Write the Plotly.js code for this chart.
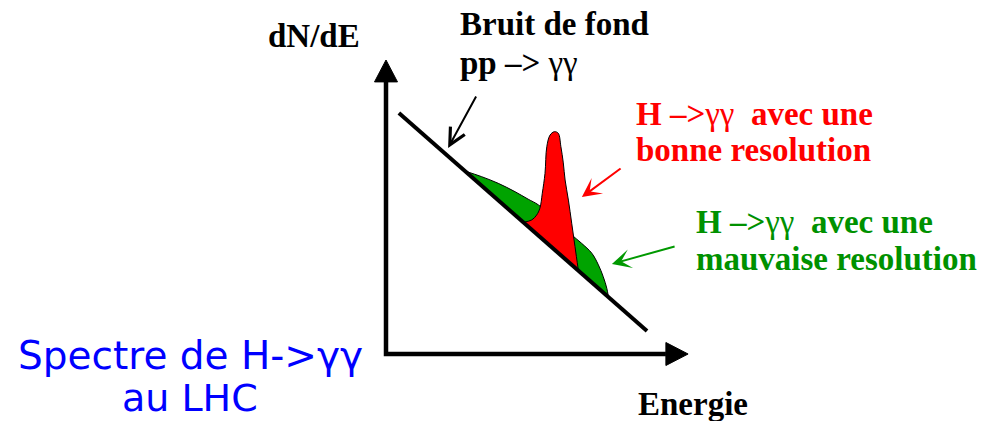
<!DOCTYPE html>
<html>
<head>
<meta charset="utf-8">
<script src="https://cdn.plot.ly/plotly-3.0.1.min.js"></script>
<style>
  html, body { margin: 0; padding: 0; background: #ffffff; }
  #chart { width: 1001px; height: 421px; }
</style>
</head>
<body>
<div id="chart"></div>
<script>
// Schematic diphoton spectrum: energy E (arbitrary units) vs dN/dE (arbitrary units)

// Falling pp -> γγ background
const bgE = [4.3, 87.0];
const bgN = [80.3, 7.7];

// Signal seen with poor resolution: broad bump on top of the background
const wideE = [26.3, 31.9, 37.4, 43.0, 47.4, 50.8, 56.3, 61.9, 65.2, 68.6, 70.8, 72.4, 73.6, 74.1];
const wideN = [61.0, 59.1, 56.9, 54.1, 51.6, 49.7, 45.0, 39.7, 36.9, 33.6, 29.7, 25.8, 21.9, 19.2];

// Signal seen with good resolution: narrow peak on top of the background
const narrowE = [45.8, 48.6, 50.2, 51.3, 52.1, 53.0, 53.6, 54.7, 56.1, 57.4, 58.3, 59.1, 59.7, 60.8, 61.9, 63.0, 64.1];
const narrowN = [43.9, 44.7, 46.3, 48.6, 53.6, 60.2, 69.1, 73.0, 74.1, 73.6, 69.1, 63.7, 58.0, 51.3, 43.6, 35.8, 28.0];

// Axis extent and arrow-head size (same units)
const yAxisTop = 90.7, yArrowTip = 98.0;
const xAxisEnd = 93.3, xArrowTip = 100.7;
const headHalf = 3.83;

const RED = '#ff0000';
const GREEN_FILL = '#00a300';
const GREEN_TEXT = '#009100';
const BLUE = '#0000ff';
const SERIF = '"Liberation Serif", "Times New Roman", serif';
const SANS = '"DejaVu Sans", sans-serif';

const traces = [
  {
    x: wideE, y: wideN, type: 'scatter', mode: 'lines',
    fill: 'toself', fillcolor: GREEN_FILL,
    line: { color: '#000000', width: 1, shape: 'spline', smoothing: 1 },
    hoverinfo: 'skip'
  },
  {
    x: narrowE, y: narrowN, type: 'scatter', mode: 'lines',
    fill: 'toself', fillcolor: RED,
    line: { color: '#000000', width: 1, shape: 'spline', smoothing: 1 },
    hoverinfo: 'skip'
  },
  {
    x: bgE, y: bgN, type: 'scatter', mode: 'lines',
    line: { color: '#000000', width: 4 },
    hoverinfo: 'skip'
  }
];

const shapes = [
  {
    type: 'path', xref: 'x', yref: 'y',
    path: `M 0,${yAxisTop} L 0,0 L ${xAxisEnd},0`,
    line: { color: '#000000', width: 4.5 }
  },
  {
    type: 'path', xref: 'x', yref: 'y',
    path: `M ${-headHalf},${yAxisTop} L 0,${yArrowTip} L ${headHalf},${yAxisTop} Z`,
    fillcolor: '#000000', line: { color: '#000000', width: 1 }
  },
  {
    type: 'path', xref: 'x', yref: 'y',
    path: `M ${xAxisEnd},${headHalf} L ${xArrowTip},0 L ${xAxisEnd},${-headHalf} Z`,
    fillcolor: '#000000', line: { color: '#000000', width: 1 }
  }
];

function label(text, x, y, color, size, family, xanchor) {
  return {
    text: text, x: x, y: y, xref: 'x', yref: 'y',
    xanchor: xanchor || 'left', yanchor: 'middle', showarrow: false,
    borderpad: 0,
    font: { family: family || SERIF, size: size || 33, color: color || '#000000' }
  };
}

function pointer(x, y, ax, ay, color, head, size) {
  return {
    text: '', x: x, y: y, ax: ax, ay: ay,
    xref: 'x', yref: 'y', axref: 'x', ayref: 'y',
    showarrow: true, arrowhead: head, arrowsize: size, arrowwidth: 2,
    arrowcolor: color, standoff: 0
  };
}

const NB = '\u00a0';
const annotations = [
  label('<b>dN/dE</b>', -39.7, 106),
  label('<b>Bruit de fond</b>', 24.3, 110),
  label('<b>pp –></b> γγ', 24.3, 97),
  label('<b>H –></b>γγ' + NB + NB + '<b>avec une</b>', 83, 80, RED),
  label('<b>bonne resolution</b>', 83, 68, RED),
  label('<b>H –></b>γγ' + NB + NB + '<b>avec une</b>', 103, 43.9, GREEN_TEXT),
  label('<b>mauvaise resolution</b>', 103, 31.7, GREEN_TEXT),
  label('<b>Energie</b>', 83.7, -16.6),
  label('Spectre de H->γγ', -65.3, -0.6, BLUE, 39, SANS, 'center'),
  label('au LHC', -65.3, -14.6, BLUE, 38, SANS, 'center'),
  pointer(20.7, 68.7, 30.3, 86.3, '#000000', 5, 1.6),
  pointer(65.3, 52.3, 78.7, 62.2, RED, 3, 1.6),
  pointer(75.3, 30.0, 96.7, 36.0, '#009900', 3, 1.6)
];

const layout = {
  width: 1001, height: 421,
  margin: { l: 0, r: 0, t: 0, b: 0 },
  paper_bgcolor: '#ffffff', plot_bgcolor: '#ffffff',
  showlegend: false,
  xaxis: { range: [-128.667, 205], visible: false, fixedrange: true },
  yaxis: { range: [-22.333, 118], visible: false, fixedrange: true },
  shapes: shapes,
  annotations: annotations
};

Plotly.newPlot('chart', traces, layout, { staticPlot: true, displayModeBar: false });
</script>
</body>
</html>
